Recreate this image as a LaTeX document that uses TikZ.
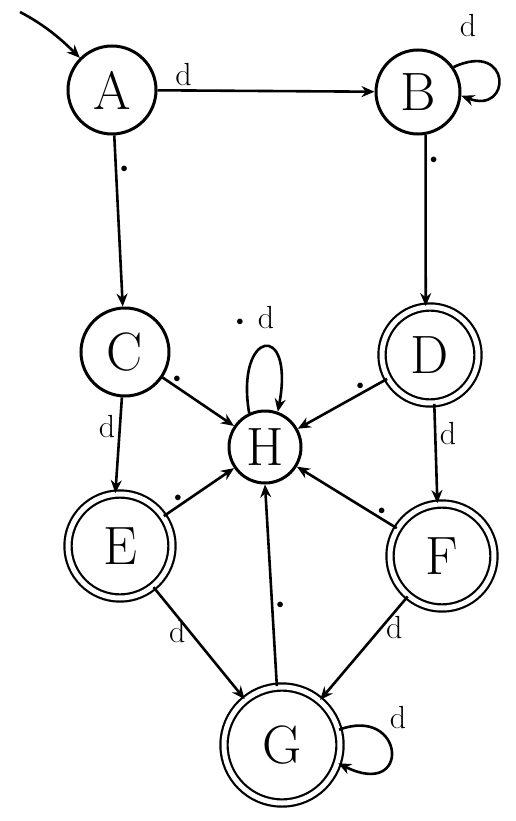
\documentclass[tikz,border=0pt]{standalone}
\usetikzlibrary{arrows.meta}
\begin{document}
\begin{tikzpicture}[x=1pt,y=-1pt,
  st/.style={circle,draw,line width=3pt,minimum size=#1,inner sep=0pt,font=\fontsize{54}{58}\selectfont},
  acc/.style={st=#1,double,double distance=5pt,line width=2.2pt},
  tr/.style={line width=2.6pt,-{Stealth[length=13pt,width=11pt,open]}},
  lab/.style={font=\fontsize{32}{34}\selectfont},
  dotl/.style={font=\fontsize{14}{14}\selectfont}]
\useasboundingbox (0,0) rectangle (516,821);
\node[st=88pt] (A) at (112,90) {A};
\node[st=84pt] (B) at (418,92) {B};
\node[st=88pt] (C) at (125,352) {C};
\node[acc=96pt] (D) at (430,355) {D};
\node[st=72pt] (H) at (265,447) {H};
\node[acc=104pt] (E) at (120,546) {E};
\node[acc=104pt] (F) at (442,556) {F};
\node[acc=116pt] (G) at (282,745) {G};
\coordinate (start) at (20,12);
\draw[tr] (start) .. controls (45,25) and (62,40) .. (A);
\draw[tr] (A) -- node[lab,above,pos=0.12] {d} (B);
\draw[tr] (B.35) .. controls (512,40) and (512,115) .. (B.-5);
\node[lab] (lB) at (468,26) {d};
\draw[tr] (A) -- node[dotl,right,pos=0.2] {$\bullet$} (C);
\draw[tr] (B.-80) -- node[dotl,right,pos=0.15] {$\bullet$} (D.95);
\draw[tr] (C) -- node[lab,left,pos=0.3] {d} (E.95);
\draw[tr] (D.-85) -- node[lab,right,pos=0.3] {d} (F.95);
\draw[tr] (C) -- node[dotl,above,pos=0.2] {$\bullet$} (H);
\draw[tr] (D) -- node[dotl,above,pos=0.3] {$\bullet$} (H);
\draw[tr] (E) -- node[dotl,above,pos=0.2] {$\bullet$} (H);
\draw[tr] (F) -- node[dotl,above,pos=0.15] {$\bullet$} (H);
\draw[tr] (H.115) .. controls (235,330) and (295,320) .. (H.70);
\node[lab] (lH) at (266,318) {d};
\node[dotl] (dH) at (240,322) {$\bullet$};
\draw[tr] (E) -- node[lab,left,pos=0.4] {d} (G);
\draw[tr] (F) -- node[lab,right,pos=0.3] {d} (G);
\draw[tr] (G.95) -- node[dotl,right,pos=0.4] {$\bullet$} (H.-90);
\draw[tr] (G.15) .. controls (405,705) and (412,800) .. (G.-18);
\node[lab] (lG) at (398,718) {d};
\end{tikzpicture}
\end{document}
